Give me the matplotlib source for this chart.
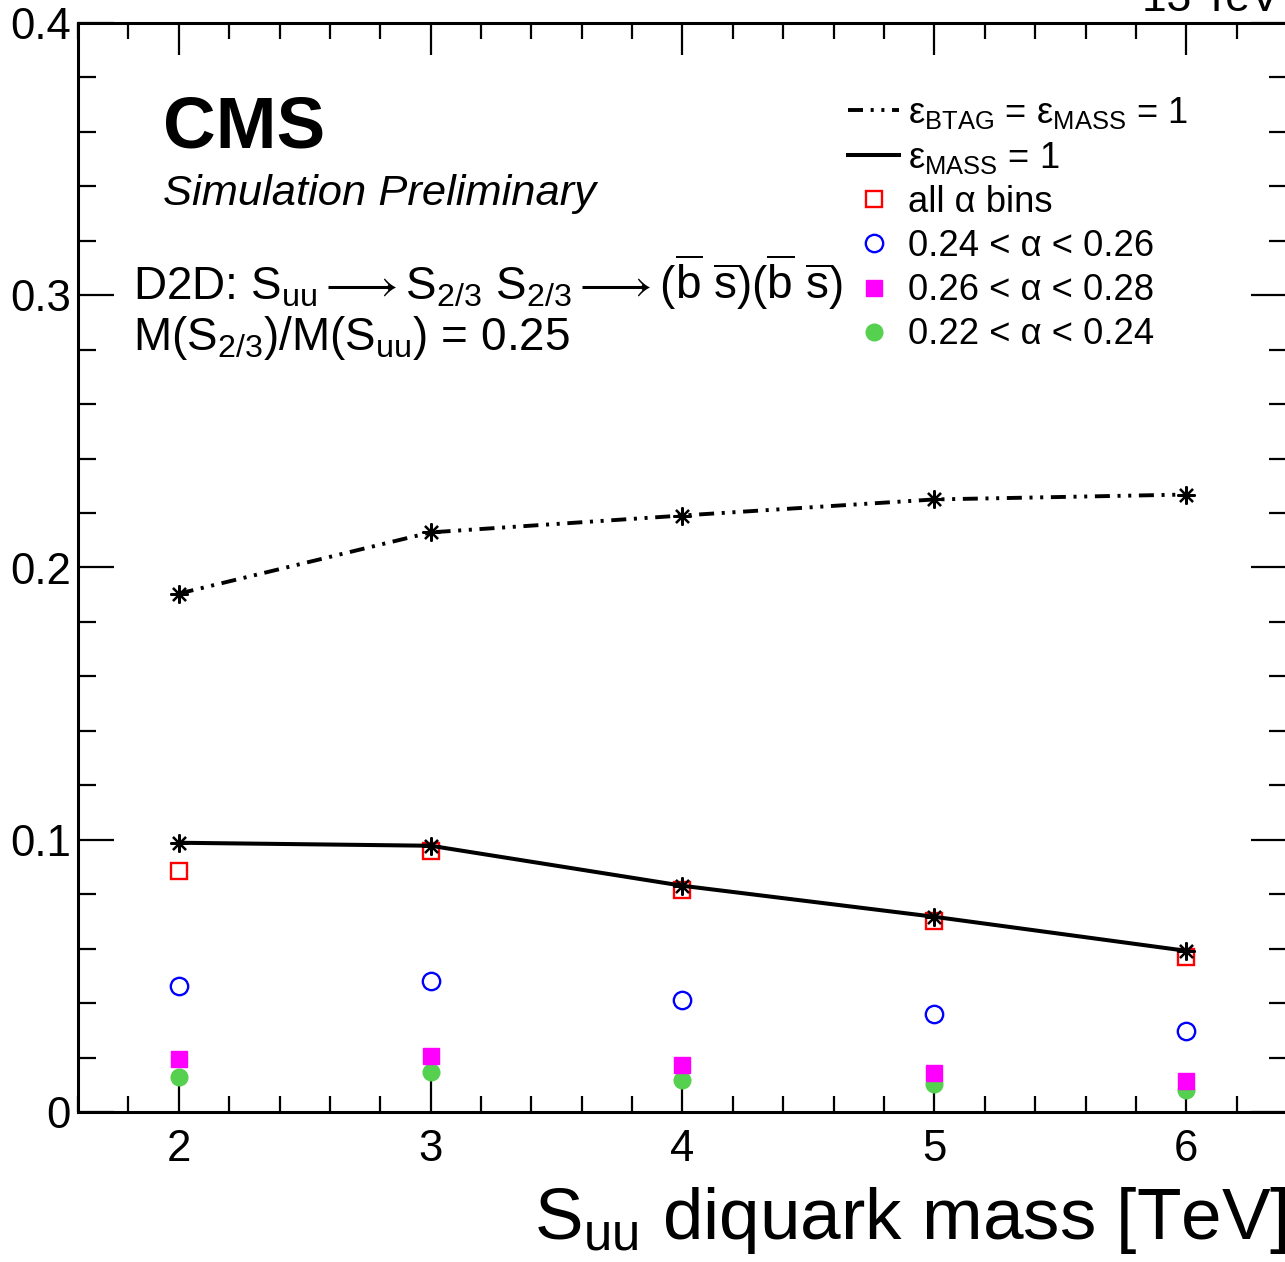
import matplotlib
matplotlib.use('Agg')
import matplotlib.pyplot as plt
from matplotlib.ticker import MultipleLocator

plt.rcParams['font.family'] = ['Liberation Sans', 'DejaVu Sans']
plt.rcParams['mathtext.fontset'] = 'custom'
plt.rcParams['mathtext.rm'] = 'Liberation Sans'
plt.rcParams['mathtext.it'] = 'Liberation Sans:italic'
plt.rcParams['mathtext.bf'] = 'Liberation Sans:bold'
plt.rcParams['mathtext.fallback'] = 'stixsans'
plt.rcParams['lines.scale_dashes'] = False

# S_uu mass points [TeV]
masses = [2, 3, 4, 5, 6]
# efficiencies
eff_btag_mass = [0.1904, 0.2129, 0.2191, 0.2250, 0.2268]
eff_mass = [0.0989, 0.0978, 0.0831, 0.0717, 0.0592]
all_bins = [0.0886, 0.0960, 0.0816, 0.0702, 0.0570]
bin_024_026 = [0.0463, 0.0482, 0.0412, 0.0360, 0.0298]
bin_026_028 = [0.0195, 0.0206, 0.0173, 0.0143, 0.0114]
bin_022_024 = [0.0129, 0.0147, 0.0118, 0.0103, 0.0081]

W, H = 1285, 1262
fig = plt.figure(figsize=(W / 100, H / 100), dpi=100)
ax = fig.add_axes([78 / W, 1 - 1112 / H, 1209 / W, 1089 / H])

ax.plot(masses, bin_022_024, ls='none', marker='o', ms=12, color='#55d04f',
        mec='#55d04f', zorder=3, label=r'0.22 < α < 0.24')
ax.plot(masses, bin_026_028, ls='none', marker='s', ms=12, color='#ff00ff',
        mec='#ff00ff', zorder=4, label=r'0.26 < α < 0.28')
ax.plot(masses, bin_024_026, ls='none', marker='o', ms=12.5, mfc='none',
        mec='#0000ff', mew=1.7, zorder=4, label=r'0.24 < α < 0.26')
ax.plot(masses, all_bins, ls='none', marker='s', ms=12, mfc='none',
        mec='#ff0000', mew=1.7, zorder=4, label=r'all α bins')

ax.plot(masses, eff_btag_mass, color='black', lw=2.8,
        dashes=(10.8, 5.5, 2.2, 5.5, 2.2, 5.5), zorder=5,
        label=r'$\mathrm{ε_{BTAG}}$ = $\mathrm{ε_{MASS}}$ = 1')
ax.plot(masses, eff_mass, color='black', lw=2.9, zorder=5,
        label=r'$\mathrm{ε_{MASS}}$ = 1')
ax.plot(masses, eff_btag_mass, ls='none', marker=(8, 2, 0), ms=13, mew=1.6,
        color='black', zorder=6)
ax.plot(masses, eff_mass, ls='none', marker=(8, 2, 0), ms=13, mew=1.6,
        color='black', zorder=6)

ax.set_xlim(1.6, 6.4)
ax.set_ylim(0, 0.4)
ax.xaxis.set_major_locator(MultipleLocator(1))
ax.xaxis.set_minor_locator(MultipleLocator(0.2))
ax.yaxis.set_major_locator(MultipleLocator(0.1))
ax.yaxis.set_minor_locator(MultipleLocator(0.02))
ax.yaxis.set_major_formatter(plt.FuncFormatter(lambda v, p: '0' if abs(v) < 1e-9 else '%g' % v))

ax.tick_params(which='both', direction='in', top=True, right=True, width=1.6,
               labelsize=31.5)
ax.tick_params(axis='x', which='major', length=23, pad=12)
ax.tick_params(axis='x', which='minor', length=11.5)
ax.tick_params(axis='y', which='major', length=26, pad=5)
ax.tick_params(axis='y', which='minor', length=13)
for s in ax.spines.values():
    s.set_linewidth(2.2)

ax.set_xlabel(r'$\mathrm{S_{uu}}$ diquark mass [TeV]', fontsize=52.5, loc='right', labelpad=11)

ax.text(0.0704, 0.886, 'CMS', transform=ax.transAxes, fontsize=52.5,
        fontweight='bold', va='baseline')
ax.text(0.0704, 0.833, 'Simulation Preliminary', transform=ax.transAxes,
        fontsize=31.3, style='italic', va='baseline')
ax.text(0.0456, 0.7456,
        r'D2D: $\mathrm{S_{uu}} \longrightarrow \mathrm{S_{2/3}}\ \mathrm{S_{2/3}} \longrightarrow '
        r'(\overline{\mathrm{b}}\ \overline{\mathrm{s}})(\overline{\mathrm{b}}\ \overline{\mathrm{s}})$',
        transform=ax.transAxes, fontsize=33, va='baseline')
ax.text(0.0456, 0.6997, r'$\mathrm{M(S_{2/3})/M(S_{uu})}$ = 0.25',
        transform=ax.transAxes, fontsize=33, va='baseline')

fig.text(1142 / W, 1 - 11 / H, '13 TeV', fontsize=32, va='baseline', ha='left')

handles, labels = ax.get_legend_handles_labels()
order = [4, 5, 3, 2, 1, 0]
ax.legend([handles[i] for i in order], [labels[i] for i in order],
          loc='upper left', bbox_to_anchor=(0.637, 0.934), frameon=False,
          fontsize=26.2, handlelength=1.4, handletextpad=0.25, labelspacing=0.25,
          borderpad=0, borderaxespad=0)

fig.savefig('out.png', dpi=100)
